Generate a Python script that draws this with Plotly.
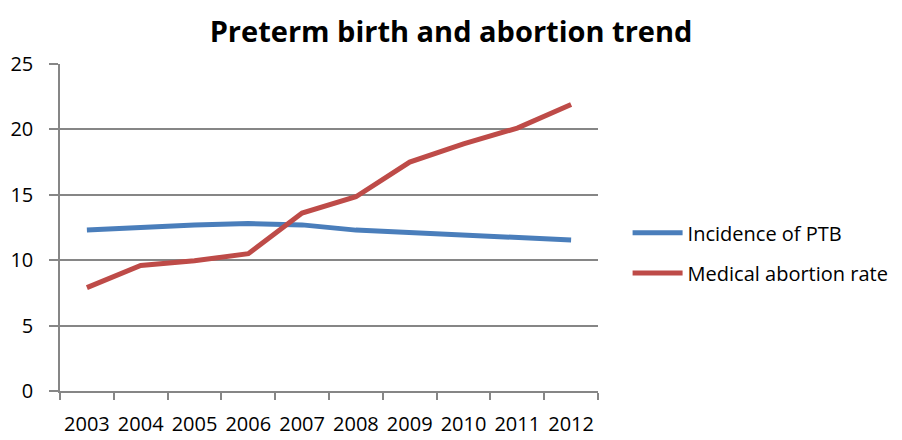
import plotly.graph_objects as go

years = ["2003", "2004", "2005", "2006", "2007", "2008", "2009", "2010", "2011", "2012"]
ptb = [12.3, 12.5, 12.7, 12.8, 12.7, 12.3, 12.1, 11.9, 11.7, 11.55]
abortion = [7.9, 9.6, 9.95, 10.5, 13.6, 14.85, 17.5, 18.9, 20.1, 21.9]

FONT = "Open Sans, Liberation Sans, sans-serif"

fig = go.Figure()
fig.add_trace(go.Scatter(x=years, y=ptb, mode="lines", name="Incidence of PTB", showlegend=True,
                         line=dict(color="#4a7ebb", width=5), legend="legend"))
fig.add_trace(go.Scatter(x=years, y=abortion, mode="lines", name="Medical abortion rate", showlegend=True,
                         line=dict(color="#be4b48", width=5), legend="legend2"))

legend_common = dict(font=dict(family=FONT, size=20, color="#000"), bgcolor="rgba(0,0,0,0)",
                     xanchor="left", yanchor="middle", itemwidth=50, visible=True)
fig.update_layout(
    width=902, height=440,
    margin=dict(l=60, r=304, t=64, b=49, autoexpand=False),
    paper_bgcolor="white", plot_bgcolor="white",
    title=dict(text="<b>Preterm birth and abortion trend</b>", x=0.5, xref="container",
               xanchor="center", y=0.927, yref="container", yanchor="middle",
               font=dict(family=FONT, size=29, color="#000")),
    legend=dict(x=1.055, y=0.484, **legend_common),
    legend2=dict(x=1.055, y=0.361, **legend_common),
    xaxis=dict(type="category", tickson="boundaries", range=[-0.5, 9.5], ticks="outside", ticklen=7,
               tickcolor="#868686", tickwidth=1.5, showline=True, linecolor="#868686",
               linewidth=1.5, showgrid=False, ticklabelstandoff=14, tickangle=0, automargin=False,
               tickfont=dict(family=FONT, size=20, color="#000")),
    yaxis=dict(range=[0, 25], dtick=5, ticks="outside", ticklen=9, tickcolor="#868686",
               tickwidth=1.5, showline=True, linecolor="#868686", linewidth=1.5,
               showgrid=True, gridcolor="#868686", gridwidth=1.5, zeroline=False,
               ticklabelstandoff=12, automargin=False,
               tickfont=dict(family=FONT, size=20, color="#000")),
)
fig.write_html("out.html")
